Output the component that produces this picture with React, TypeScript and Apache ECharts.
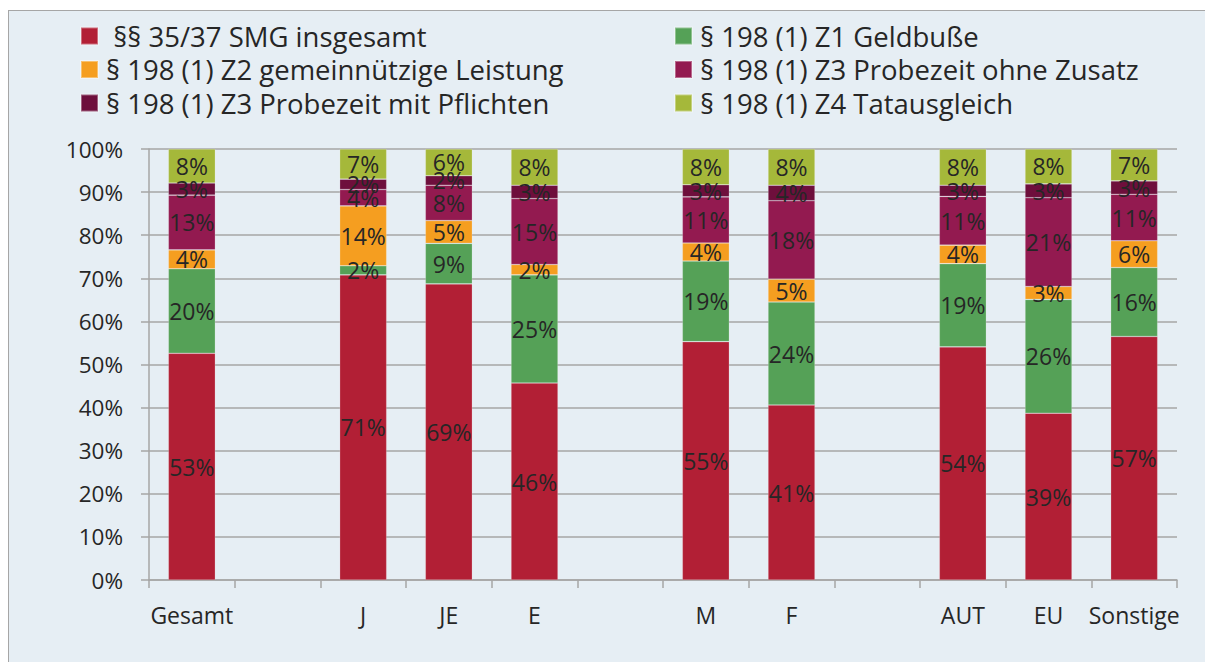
import React, { useEffect, useRef } from "react";
import * as echarts from "echarts";

const categories = ["Gesamt", "", "J", "JE", "E", "", "M", "F", "", "AUT", "EU", "Sonstige"];
const seriesNames = [
  "§§ 35/37 SMG insgesamt",
  "§ 198 (1) Z1 Geldbuße",
  "§ 198 (1) Z2 gemeinnützige Leistung",
  "§ 198 (1) Z3 Probezeit ohne Zusatz",
  "§ 198 (1) Z3 Probezeit mit Pflichten",
  "§ 198 (1) Z4 Tatausgleich",
];
const smg = [52.6, null, 70.8, 68.7, 45.7, null, 55.3, 40.6, null, 54.1, 38.7, 56.5];
const z1 = [19.6, null, 2.1, 9.4, 25.1, null, 18.7, 23.9, null, 19.3, 26.4, 16.0];
const z2 = [4.4, null, 13.9, 5.3, 2.4, null, 4.2, 5.3, null, 4.3, 3.0, 6.2];
const z3ohne = [12.7, null, 3.8, 8.2, 15.3, null, 10.7, 18.2, null, 11.3, 20.6, 10.8];
const z3mit = [2.8, null, 2.4, 2.2, 3.1, null, 2.8, 3.6, null, 2.6, 3.2, 3.1];
const z4 = [7.9, null, 7.0, 6.2, 8.4, null, 8.3, 8.4, null, 8.4, 8.1, 7.4];
const yTicks = [0, 10, 20, 30, 40, 50, 60, 70, 80, 90, 100];

const colors = ["#B21F35", "#55A157", "#F59E20", "#931A50", "#6E0F3C", "#A5B83A"];
const FONT = "'Open Sans', sans-serif";
const TEXT = "#262626";

export default function App() {
  const ref = useRef<HTMLDivElement>(null);
  useEffect(() => {
    if (!ref.current) return;
    document.body.style.overflow = "hidden";
    const chart = echarts.init(ref.current, null, { renderer: "svg" });
    const allData = [smg, z1, z2, z3ohne, z3mit, z4];
    const legendCommon = {
      orient: "vertical" as const,
      top: 17,
      itemWidth: 17,
      itemHeight: 17,
      itemGap: 5.5,
      icon: "rect",
      selectedMode: false,
      textStyle: {
        fontFamily: FONT,
        fontSize: 27.5,
        color: TEXT,
        lineHeight: 28,
        padding: [0, 0, 0, 3],
      },
      formatter: (name: string) => (name === seriesNames[0] ? "\u00a0" + name : name),
    };
    chart.setOption({
      animation: false,
      backgroundColor: "transparent",
      textStyle: { fontFamily: FONT },
      legend: [
        { ...legendCommon, left: 75, data: [seriesNames[0], seriesNames[2], seriesNames[4]] },
        { ...legendCommon, left: 669, data: [seriesNames[1], seriesNames[3], seriesNames[5]] },
      ],
      grid: { left: 149, right: 28, top: 149, bottom: 82, containLabel: false },
      xAxis: {
        type: "category",
        data: categories,
        axisLine: { show: true, lineStyle: { color: "#A6A6A6", width: 1.5 } },
        axisTick: { show: true, length: 8, alignWithLabel: false, lineStyle: { color: "#A6A6A6", width: 1.5 } },
        axisLabel: { fontFamily: FONT, fontSize: 23, color: TEXT, margin: 23, interval: 0 },
      },
      yAxis: {
        type: "value",
        min: yTicks[0],
        max: yTicks[yTicks.length - 1],
        interval: 10,
        axisLine: { show: true, lineStyle: { color: "#A6A6A6", width: 1.5 } },
        axisTick: { show: true, length: 8, lineStyle: { color: "#A6A6A6", width: 1.5 } },
        splitLine: { show: true, lineStyle: { color: "#A6A6A6", width: 1.5 } },
        axisLabel: { fontFamily: FONT, fontSize: 22.5, color: TEXT, margin: 26, formatter: "{value}%" },
      },
      series: seriesNames.map((name, i) => ({
        name,
        type: "bar",
        stack: "total",
        barWidth: 47,
        data: allData[i],
        itemStyle: { color: colors[i], borderColor: "rgba(255,255,255,0.35)", borderWidth: 0.6 },
        label: {
          show: true,
          position: "inside",
          fontFamily: FONT,
          fontSize: 23,
          color: TEXT,
          formatter: (p: any) => (p.value == null ? "" : Math.round(p.value) + "%"),
        },
      })),
    });
    return () => chart.dispose();
  }, []);
  return (
    <>
      <div
        style={{
          position: "absolute",
          left: 8,
          top: 10,
          width: 1220,
          height: 680,
          boxSizing: "border-box",
          background: "#E6EEF4",
          borderTop: "1px solid #A6A6A6",
          borderLeft: "1px solid #A6A6A6",
        }}
      />
      <div
        ref={ref}
        style={{ position: "absolute", left: 0, top: 0, width: 1205, height: 662 }}
      />
    </>
  );
}
